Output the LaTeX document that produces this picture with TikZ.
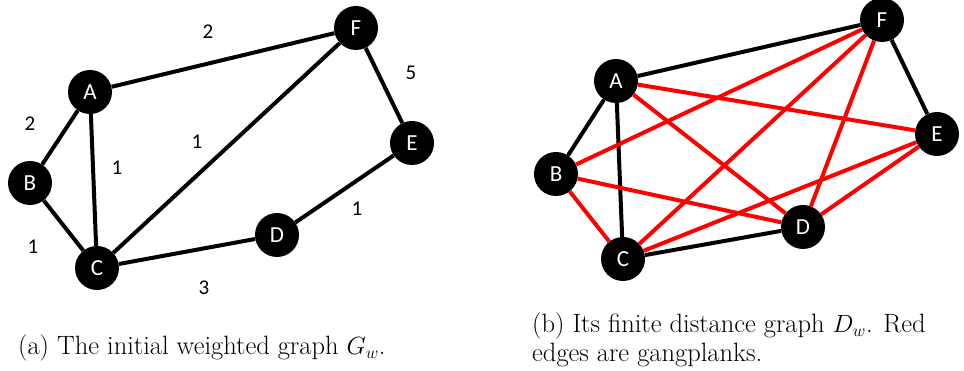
\documentclass[tikz,border=0pt]{standalone}
\usepackage{fontspec}
\newfontfamily\carl{Carlito}
\begin{document}
\begin{tikzpicture}[x=1pt,y=-1pt,
  vtx/.style={circle,fill=black,minimum size=44pt,inner sep=0pt,text=white,font=\carl\fontsize{23}{23}\selectfont},
  bedge/.style={line width=4pt,black},
  redge/.style={line width=4pt,red},
  wlab/.style={font=\carl\fontsize{21}{21}\selectfont,inner sep=0pt},
  captxt/.style={anchor=base west,inner sep=0pt,font=\fontsize{26.5}{29}\selectfont}]
\useasboundingbox (0,0) rectangle (964,371);
% left graph
\node[vtx] (A) at (90,92) {A};
\node[vtx] (B) at (30,183) {B};
\node[vtx] (C) at (97,268) {C};
\node[vtx] (D) at (277,235) {D};
\node[vtx] (E) at (412,143) {E};
\node[vtx] (F) at (356,28) {F};
\draw[bedge] (A) -- (F);
\draw[bedge] (F) -- (E);
\draw[bedge] (A) -- (B);
\draw[bedge] (A) -- (C);
\draw[bedge] (C) -- (F);
\draw[bedge] (B) -- (C);
\draw[bedge] (C) -- (D);
\draw[bedge] (D) -- (E);
\node[wlab] (lAF) at (208,32) {2};
\node[wlab] (lFE) at (411,73) {5};
\node[wlab] (lAB) at (30,124) {2};
\node[wlab] (lAC) at (117,168) {1};
\node[wlab] (lCF) at (197,142) {1};
\node[wlab] (lDE) at (357,209) {1};
\node[wlab] (lBC) at (33,247) {1};
\node[wlab] (lCD) at (204,288) {3};
% right graph
\node[vtx] (A2) at (616,81) {A};
\node[vtx] (B2) at (556,174) {B};
\node[vtx] (C2) at (623,259) {C};
\node[vtx] (D2) at (803,227) {D};
\node[vtx] (E2) at (937,134) {E};
\node[vtx] (F2) at (882,20) {F};
\draw[bedge] (A2) -- (F2);
\draw[bedge] (F2) -- (E2);
\draw[bedge] (A2) -- (B2);
\draw[bedge] (A2) -- (C2);
\draw[bedge] (C2) -- (D2);
\draw[redge] (B2) -- (F2);
\draw[redge] (B2) -- (D2);
\draw[redge] (B2) -- (C2);
\draw[redge] (A2) -- (E2);
\draw[redge] (A2) -- (D2);
\draw[redge] (C2) -- (F2);
\draw[redge] (C2) -- (E2);
\draw[redge] (F2) -- (D2);
\draw[redge] (E2) -- (D2);
% captions
\node[captxt] (capa) at (18,355) {(a) The initial weighted graph $G_w$.};
\node[captxt] (capb1) at (532,333) {(b) Its finite distance graph $D_w$. Red};
\node[captxt] (capb2) at (532,362) {edges are gangplanks.};
\end{tikzpicture}
\end{document}
